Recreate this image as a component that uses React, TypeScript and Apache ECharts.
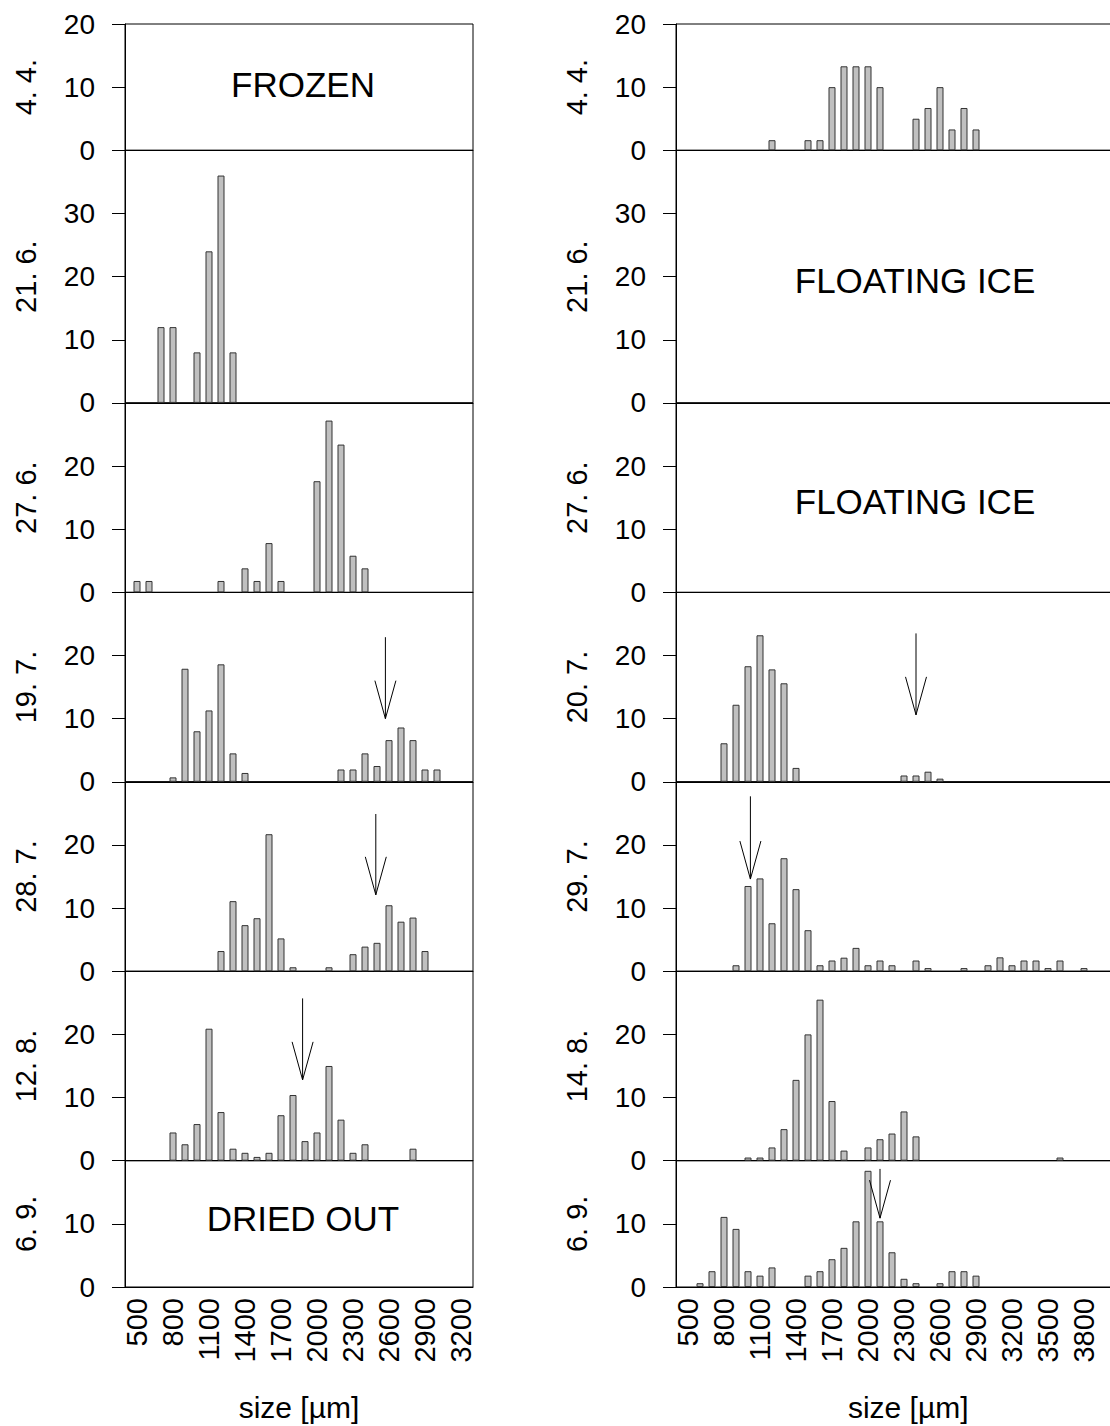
import React, { useEffect, useRef } from 'react';
import * as echarts from 'echarts';

const FONT = '"Liberation Sans", Arial, Helvetica, sans-serif';

// ---------- data (size in µm, share in %) ----------
const leftDates = ['4. 4.', '21. 6.', '27. 6.', '19. 7.', '28. 7.', '12. 8.', '6. 9.'];
const rightDates = ['4. 4.', '21. 6.', '27. 6.', '20. 7.', '29. 7.', '14. 8.', '6. 9.'];

const panelMax = [20, 40, 30, 30, 30, 30, 20];
const yLabelSets = [[0, 10, 20], [0, 10, 20, 30], [0, 10, 20], [0, 10, 20], [0, 10, 20], [0, 10, 20], [0, 10]];

const leftTicks = [500, 800, 1100, 1400, 1700, 2000, 2300, 2600, 2900, 3200];
const rightTicks = [500, 800, 1100, 1400, 1700, 2000, 2300, 2600, 2900, 3200, 3500, 3800];

const L_0404: number[][] = [];
const L_2106 = [[700, 12], [800, 12], [1000, 8], [1100, 24], [1200, 36], [1300, 8]];
const L_2706 = [[500, 1.8], [600, 1.8], [1200, 1.8], [1400, 3.8], [1500, 1.8], [1600, 7.8], [1700, 1.8], [2000, 17.6], [2100, 27.2], [2200, 23.4], [2300, 5.8], [2400, 3.8]];
const L_1907 = [[800, 0.7], [900, 17.9], [1000, 8], [1100, 11.3], [1200, 18.6], [1300, 4.5], [1400, 1.4], [2200, 1.95], [2300, 1.95], [2400, 4.5], [2500, 2.5], [2600, 6.6], [2700, 8.6], [2800, 6.6], [2900, 1.95], [3000, 1.95]];
const L_2807 = [[1200, 3.2], [1300, 11.1], [1400, 7.3], [1500, 8.4], [1600, 21.7], [1700, 5.2], [1800, 0.63], [2100, 0.63], [2300, 2.7], [2400, 3.9], [2500, 4.5], [2600, 10.45], [2700, 7.85], [2800, 8.5], [2900, 3.2]];
const L_1208 = [[800, 4.47], [900, 2.6], [1000, 5.8], [1100, 20.9], [1200, 7.7], [1300, 1.9], [1400, 1.25], [1500, 0.6], [1600, 1.25], [1700, 7.2], [1800, 10.4], [1900, 3.1], [2000, 4.47], [2100, 15.0], [2200, 6.5], [2300, 1.25], [2400, 2.6], [2800, 1.9]];
const L_0609: number[][] = [];

const R_0404 = [[1200, 1.6], [1500, 1.6], [1600, 1.6], [1700, 10], [1800, 13.3], [1900, 13.3], [2000, 13.3], [2100, 10], [2400, 5], [2500, 6.7], [2600, 10], [2700, 3.3], [2800, 6.7], [2900, 3.3]];
const R_2106: number[][] = [];
const R_2706: number[][] = [];
const R_2007 = [[800, 6.1], [900, 12.2], [1000, 18.3], [1100, 23.2], [1200, 17.8], [1300, 15.6], [1400, 2.2], [2300, 1.0], [2400, 1.0], [2500, 1.6], [2600, 0.5]];
const R_2907 = [[900, 0.95], [1000, 13.5], [1100, 14.7], [1200, 7.6], [1300, 17.9], [1400, 13.0], [1500, 6.5], [1600, 0.95], [1700, 1.7], [1800, 2.15], [1900, 3.7], [2000, 0.95], [2100, 1.7], [2200, 0.95], [2400, 1.7], [2500, 0.5], [2800, 0.5], [3000, 0.95], [3100, 2.2], [3200, 0.95], [3300, 1.7], [3400, 1.7], [3500, 0.5], [3600, 1.7], [3800, 0.5]];
const R_1408 = [[1000, 0.5], [1100, 0.5], [1200, 2.1], [1300, 5.0], [1400, 12.8], [1500, 20], [1600, 25.5], [1700, 9.45], [1800, 1.6], [2000, 2.1], [2100, 3.4], [2200, 4.3], [2300, 7.8], [2400, 3.85], [3600, 0.5]];
const R_0609 = [[600, 0.6], [700, 2.5], [800, 11.1], [900, 9.2], [1000, 2.5], [1100, 1.8], [1200, 3.1], [1500, 1.8], [1600, 2.5], [1700, 4.4], [1800, 6.2], [1900, 10.4], [2000, 18.4], [2100, 10.4], [2200, 5.5], [2300, 1.3], [2400, 0.6], [2600, 0.6], [2700, 2.5], [2800, 2.5], [2900, 1.8]];

const leftData = [L_0404, L_2106, L_2706, L_1907, L_2807, L_1208, L_0609];
const rightData = [R_0404, R_2106, R_2706, R_2007, R_2907, R_1408, R_0609];

// arrows: [size, y of arrow top, y of arrow tip]
const leftArrows: (number[] | null)[] = [null, null, null, [2570, 22.9, 10.0], [2490, 24.9, 12.1], [1880, 25.7, 12.8], null];
const rightArrows: (number[] | null)[] = [null, null, null, [2400, 23.5, 10.6], [1020, 27.7, 14.6], null, [2100, 18.7, 10.9]];

const leftNotes = ['FROZEN', '', '', '', '', '', 'DRIED OUT'];
const rightNotes = ['', 'FLOATING ICE', 'FLOATING ICE', '', '', '', ''];

export default function App() {
  const ref = useRef<HTMLDivElement>(null);
  useEffect(() => {
    const chart = echarts.init(ref.current!, null, { renderer: 'svg' });
    const unit = 6.315;
    const tops: number[] = [];
    let acc = 24;
    panelMax.forEach((m) => { tops.push(acc); acc += m * unit; });

    const grids: any[] = [];
    const xAxes: any[] = [];
    const yAxes: any[] = [];
    const series: any[] = [];
    const graphics: any[] = [];

    const cols = [
      { left: 125, width: 348, min: 400, max: 3300, ticks: leftTicks, dates: leftDates, data: leftData, arrows: leftArrows, notes: leftNotes, noteX: 303 },
      { left: 676, width: 464.4, min: 400, max: 4270, ticks: rightTicks, dates: rightDates, data: rightData, arrows: rightArrows, notes: rightNotes, noteX: 915 },
    ];
    const lineStyle = { color: '#000', width: 1 };

    cols.forEach((c) => {
      panelMax.forEach((m, pi) => {
        const idx = grids.length;
        const isBottom = pi === panelMax.length - 1;
        grids.push({
          left: c.left, top: tops[pi], width: c.width, height: m * unit,
          show: true, borderColor: '#000', borderWidth: 1, backgroundColor: 'transparent',
        });
        xAxes.push({
          gridIndex: idx, type: 'value', min: c.min, max: c.max,
          axisLine: { show: true, onZero: false, lineStyle },
          axisTick: { show: false },
          splitLine: { show: false },
          axisLabel: isBottom
            ? { show: true, customValues: c.ticks, rotate: 90, margin: 11, fontSize: 29, color: '#000', fontFamily: FONT, formatter: (v: number) => String(v) }
            : { show: false },
          name: isBottom ? 'size [µm]' : '',
          nameLocation: 'middle', nameGap: 105,
          nameTextStyle: { fontSize: 30, color: '#000', fontFamily: FONT },
        });
        yAxes.push({
          gridIndex: idx, type: 'value', min: 0, max: m, interval: 10,
          axisLine: { show: true, lineStyle },
          axisTick: { show: true, inside: false, length: 13, lineStyle },
          splitLine: { show: false },
          axisLabel: { customValues: yLabelSets[pi], margin: 30, fontSize: 28, color: '#000', fontFamily: FONT },
          name: c.dates[pi], nameLocation: 'middle', nameRotate: 90, nameGap: 85,
          nameTextStyle: { fontSize: 29, color: '#000', fontFamily: FONT },
        });
        series.push({
          type: 'bar', xAxisIndex: idx, yAxisIndex: idx, data: c.data[pi], barWidth: 7,
          itemStyle: { color: '#c0c0c0', borderColor: '#333', borderWidth: 1 },
          silent: true,
        });
        const arr = c.arrows[pi];
        if (arr) {
          series.push({
            type: 'custom', xAxisIndex: idx, yAxisIndex: idx, data: [arr],
            encode: { x: 0, y: [1, 2] }, silent: true, z: 5,
            renderItem: (_p: any, api: any) => {
              const a = api.coord([api.value(0), api.value(1)]);
              const b = api.coord([api.value(0), api.value(2)]);
              return {
                type: 'group',
                children: [
                  { type: 'line', shape: { x1: a[0], y1: a[1], x2: b[0], y2: b[1] }, style: { stroke: '#000', lineWidth: 1 } },
                  { type: 'polyline', shape: { points: [[b[0] - 10.5, b[1] - 38], [b[0], b[1]], [b[0] + 10.5, b[1] - 38]] }, style: { stroke: '#000', fill: null, lineWidth: 1 } },
                ],
              };
            },
          });
        }
        const note = c.notes[pi];
        if (note) {
          graphics.push({
            type: 'text', x: c.noteX, y: tops[pi] + (m * unit) / 2 + (pi === 0 ? -3 : pi === 6 ? -5 : 4),
            style: { text: note, fontSize: 35, fill: '#000', fontFamily: FONT, align: 'center', verticalAlign: 'middle' },
            silent: true,
          });
        }
      });
    });

    chart.setOption({
      animation: false,
      backgroundColor: '#fff',
      grid: grids,
      xAxis: xAxes,
      yAxis: yAxes,
      series,
      graphic: graphics,
    });
    return () => chart.dispose();
  }, []);
  return (
    <div style={{ position: 'absolute', left: 0, top: 0, width: 1110, height: 1426, overflow: 'hidden', background: '#fff' }}>
      <div ref={ref} style={{ width: 1200, height: 1426 }} />
    </div>
  );
}
